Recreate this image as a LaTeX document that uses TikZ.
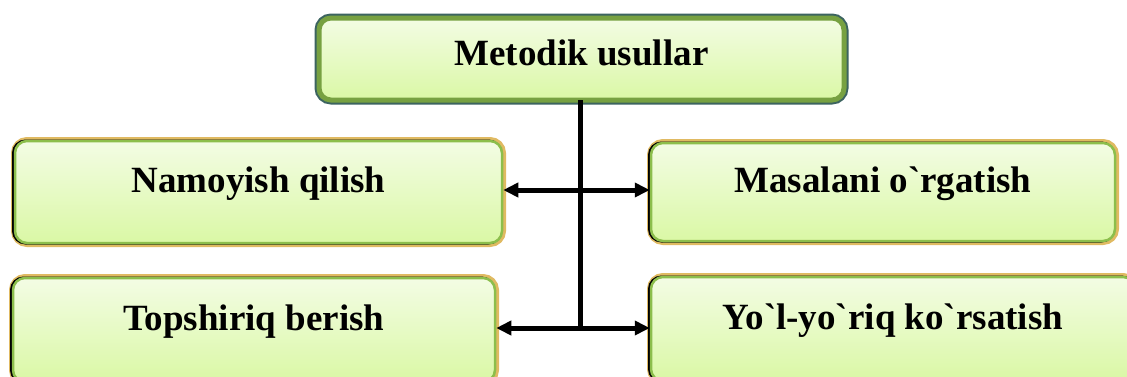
\documentclass[tikz,border=0pt]{standalone}
\usepackage{fontspec}
\setmainfont{Liberation Serif}
\usetikzlibrary{arrows.meta}
\definecolor{boxtop}{RGB}{243,252,228}
\definecolor{boxbot}{RGB}{218,248,165}
\definecolor{boxgreen}{RGB}{140,190,76}
\definecolor{boxtan}{RGB}{224,186,98}
\definecolor{boxteal}{RGB}{60,100,96}
\tikzset{
  methodbox/.style={rounded corners=12pt, top color=boxtop, bottom color=boxbot,
    draw=boxgreen, line width=2.5pt, inner sep=0pt,
    font=\bfseries\fontsize{37}{44}\selectfont,
    text height=10pt, text depth=10pt,
    preaction={draw=boxtan, line width=8pt},
    preaction={draw=black, line width=3pt, transform canvas={xshift=-1.5pt}}},
  titlebox/.style={rounded corners=12pt, top color=boxtop, bottom color=boxbot,
    draw=boxgreen!85!black, line width=5pt, inner sep=0pt,
    font=\bfseries\fontsize{37}{44}\selectfont,
    text height=18pt, text depth=6pt,
    preaction={draw=boxteal, line width=9pt}},
  link/.style={line width=5pt, line cap=rect},
  linkarrow/.style={line width=5pt, -{Triangle[length=15pt,width=14pt]}}
}
\begin{document}
\begin{tikzpicture}[x=1pt,y=-1pt]
\useasboundingbox (0,0) rectangle (1127,376);
\clip (0,0) rectangle (1127,376);
\coordinate (jm) at (580,190);
\coordinate (jb) at (580,328);

% boxes
\node[titlebox, minimum width=525pt, minimum height=82pt] (top) at (581.5,59) {Metodik usullar};
\node[methodbox, minimum width=487pt, minimum height=102pt] (nam) at (258.5,192) {Namoyish qilish};
\node[methodbox, minimum width=464pt, minimum height=98pt] (mas) at (883,192) {Masalani o\textasciigrave rgatish};
\node[methodbox, minimum width=482pt, minimum height=104pt] (top2) at (254,330) {Topshiriq berish};
\node[methodbox, minimum width=484pt, minimum height=104pt] (yol) at (893,329) {Yo\textasciigrave l-yo\textasciigrave riq ko\textasciigrave rsatish};

% connectors
\draw[link] (top.south -| jb) -- (jb);
\draw[linkarrow] (jm) -- (nam.east |- jm);
\draw[linkarrow] (jm) -- (mas.west |- jm);
\draw[linkarrow] (jb) -- (top2.east |- jb);
\draw[linkarrow] (jb) -- (yol.west |- jb);
\end{tikzpicture}
\end{document}
